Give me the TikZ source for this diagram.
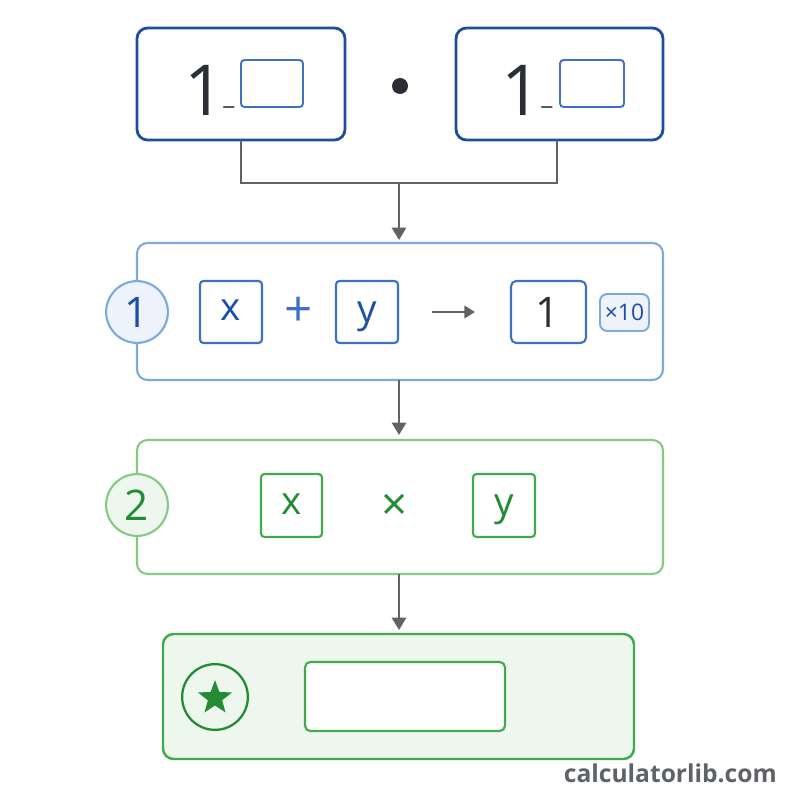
\documentclass[tikz,border=0pt]{standalone}
\usepackage{fontspec}
\setmainfont{Open Sans}
\usetikzlibrary{arrows.meta,shapes.geometric}
\definecolor{dblue}{HTML}{1F4E9A}
\definecolor{lblue}{HTML}{7FA8DB}
\definecolor{mblue}{HTML}{3E72C0}
\definecolor{tblue}{HTML}{1E4FA8}
\definecolor{gline}{HTML}{5F6368}
\definecolor{lgreen}{HTML}{86C987}
\definecolor{mgreen}{HTML}{43A94F}
\definecolor{tgreen}{HTML}{238B34}
\definecolor{gfill}{HTML}{EEF7EE}
\definecolor{bfill}{HTML}{EDF2FB}
\definecolor{txt}{HTML}{2B2E33}
\tikzset{
 px/.style={x=0.02cm,y=-0.02cm},
 conn/.style={draw=gline,line width=1.3pt},
 arr/.style={conn,-{Triangle[length=7pt,width=8pt]}},
 rbox/.style={rounded corners=6pt},
}
\begin{document}
\begin{tikzpicture}[px]
\useasboundingbox[fill=white] (0,0) rectangle (800,800);
% top boxes
\draw[draw=dblue,line width=1.6pt,rbox] (137,28) rectangle (345,140);
\draw[draw=dblue,line width=1.6pt,rbox] (456,28) rectangle (663,140);
\node[text=txt,font=\fontsize{40}{40}\selectfont] (one1) at (205,90) {1};
\node[text=txt,font=\fontsize{14}{14}\selectfont] at (229,106) {\_};
\draw[draw=mblue,line width=1.1pt,rounded corners=2pt] (241,60) rectangle (303,107);
\node[text=txt,font=\fontsize{40}{40}\selectfont] (one2) at (522,90) {1};
\node[text=txt,font=\fontsize{14}{14}\selectfont] at (547,106) {\_};
\draw[draw=mblue,line width=1.1pt,rounded corners=2pt] (560,60) rectangle (624,107);
\fill[txt] (400,86) circle (8);
\coordinate (tl) at (241,140); \coordinate (tr) at (557,140);
\coordinate (j) at (399,183);
\draw[conn] (tl) -- (241,183) -- (557,183) -- (tr);
\coordinate (b1t) at (399,240);
\draw[arr] (j) -- (b1t);
% box 1
\draw[draw=lblue,line width=1.2pt,rbox] (137,243) rectangle (663,380);
\node[circle,draw=lblue,fill=bfill,line width=1.2pt,minimum size=62pt*0.5669,inner sep=0pt,text=tblue,font=\fontsize{24}{24}\selectfont] (c1) at (137,312) {1};
\draw[draw=mblue,line width=1.2pt,rounded corners=2pt] (200,281) rectangle (262,343);
\node[text=tblue,font=\fontsize{22}{22}\selectfont] at (231,310) {x};
\node[text=mblue,font=\fontsize{28}{28}\selectfont] at (299,312) {+};
\draw[draw=mblue,line width=1.2pt,rounded corners=2pt] (336,281) rectangle (398,343);
\node[text=tblue,font=\fontsize{22}{22}\selectfont] at (367,317) {y};
\draw[gline,line width=1.3pt,-{Triangle[length=6pt,width=7pt]}] (432,312) -- (475,312);
\draw[draw=mblue,line width=1.2pt,rounded corners=3pt] (511,281) rectangle (586,343);
\node[text=txt,font=\fontsize{24}{24}\selectfont] at (548,312) {1};
\draw[draw=lblue,fill=bfill,line width=1.1pt,rounded corners=4pt] (600,294) rectangle (649,331);
\node[text=tblue,font=\fontsize{13}{13}\selectfont] at (624.5,312) {×10};
\coordinate (b1b) at (399,380); \coordinate (b2t) at (399,435);
\draw[arr] (b1b) -- (b2t);
% box 2
\draw[draw=lgreen,line width=1.2pt,rbox] (137,440) rectangle (663,574);
\node[circle,draw=lgreen,fill=gfill,line width=1.2pt,minimum size=62pt*0.5669,inner sep=0pt,text=tgreen,font=\fontsize{24}{24}\selectfont] (c2) at (137,505) {2};
\draw[draw=mgreen,line width=1.2pt,rounded corners=2pt] (261,474) rectangle (322,537);
\node[text=tgreen,font=\fontsize{22}{22}\selectfont] at (291.5,504) {x};
\node[text=tgreen,font=\fontsize{26}{26}\selectfont] at (395,507) {×};
\draw[draw=mgreen,line width=1.2pt,rounded corners=2pt] (473,474) rectangle (535,537);
\node[text=tgreen,font=\fontsize{22}{22}\selectfont] at (504,510) {y};
\coordinate (b2b) at (399,574); \coordinate (b3t) at (399,630);
\draw[arr] (b2b) -- (b3t);
% box 3
\draw[draw=mgreen,fill=gfill,line width=1.4pt,rbox] (163,634) rectangle (634,759);
\node[circle,draw=tgreen,fill=gfill,line width=1.3pt,minimum size=66pt*0.5669,inner sep=0pt] (c3) at (215,697) {};
\node[star,star points=5,star point ratio=2.4,fill=tgreen,minimum size=36pt*0.5669,inner sep=0pt] at (215,698) {};
\draw[draw=mgreen,fill=white,line width=1.2pt,rounded corners=3pt] (305,662) rectangle (505,731);
\node[anchor=east,text=gline,font=\fontsize{14}{14}\selectfont\bfseries] (brand) at (783,773) {calculatorlib.com};
\end{tikzpicture}
\end{document}
